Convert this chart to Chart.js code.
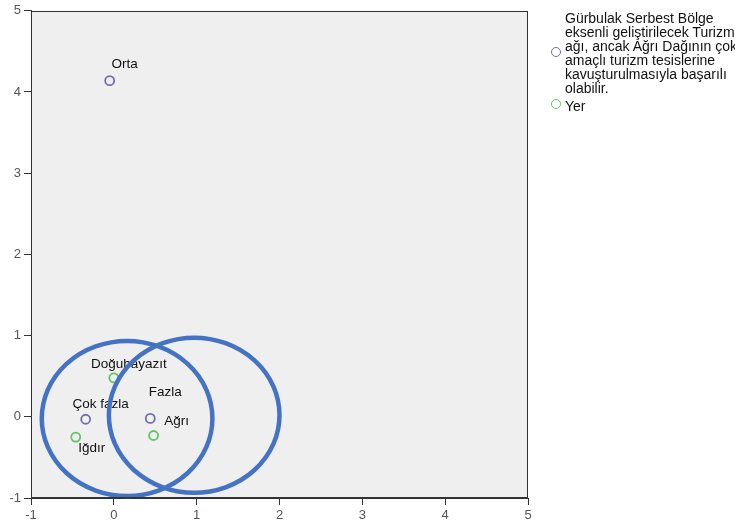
<!DOCTYPE html>
<html>
<head>
<meta charset="utf-8">
<script src="https://cdn.jsdelivr.net/npm/chart.js@4"></script>
<style>
  html, body { margin:0; padding:0; background:#fff; width:735px; height:526px; overflow:hidden; }
  #wrap { position:relative; width:735px; height:526px; overflow:hidden; }
  canvas { position:absolute; left:0; top:0; }
  .lg-text { position:absolute; font-family: Arial, 'Liberation Sans', sans-serif; font-size:14px; line-height:14px; color:#111; white-space:nowrap; }
  .lg-mark { position:absolute; width:8px; height:8px; border-radius:50%; border:1.6px solid; box-sizing:content-box; }
</style>
</head>
<body>
<div id="wrap">
  <canvas id="c" width="735" height="526"></canvas>
  <div id="legend"></div>
</div>
<script>
// ---- data ----
const seriesNames = [
  'Gürbulak Serbest Bölge\neksenli geliştirilecek Turizm\nağı, ancak Ağrı Dağının çok\namaçlı turizm tesislerine\nkavuşturulmasıyla başarılı\nolabilir.',
  'Yer'
];
const opinionLabels = ['Orta', 'Çok fazla', 'Fazla'];
const opinionX = [-0.05, -0.34, 0.44];
const opinionY = [4.14, -0.03, -0.02];
const placeLabels = ['Doğubayazıt', 'Iğdır', 'Ağrı'];
const placeX = [0.00, -0.46, 0.48];
const placeY = [0.48, -0.25, -0.23];
const xTickRange = [-1, 5];
const yTickRange = [-1, 5];
// highlight ellipses (data units): centre x, centre y, radius x, radius y
const ellipseCX = [0.16, 0.97];
const ellipseCY = [-0.02, 0.02];
const ellipseRX = [1.03, 1.03];
const ellipseRY = [0.955, 0.955];

// ---- styling ----
const FONT = "Arial, 'Liberation Sans', sans-serif";
const colors = ['#6f6fae', '#62c462'];
// label offsets in pixels (layout only)
const labelOffsets = [
  [[15, -16], [15, -15], [15, -26]],
  [[15, -14], [16, 11], [23, -14]]
];

function pts(xs, ys, labels) {
  return xs.map((x, i) => ({ x: x, y: ys[i], label: labels[i] }));
}

const bgPlugin = {
  id: 'bg',
  beforeDraw(chart) {
    const { ctx, chartArea: a } = chart;
    ctx.save();
    ctx.fillStyle = '#efefef';
    ctx.fillRect(a.left, a.top, a.right - a.left, a.bottom - a.top);
    ctx.restore();
  },
  afterDraw(chart) {
    const { ctx, chartArea: a } = chart;
    ctx.save();
    ctx.strokeStyle = '#333';
    ctx.lineWidth = 1;
    ctx.strokeRect(Math.round(a.left) + 0.5, Math.round(a.top) + 0.5,
      Math.round(a.right - a.left) - 1, Math.round(a.bottom - a.top) - 1);
    ctx.restore();
  }
};

const labelPlugin = {
  id: 'pointLabels',
  afterDatasetsDraw(chart) {
    const ctx = chart.ctx;
    ctx.save();
    ctx.font = '13.5px ' + FONT;
    ctx.fillStyle = '#111';
    ctx.textAlign = 'center';
    ctx.textBaseline = 'middle';
    chart.data.datasets.forEach((ds, di) => {
      const meta = chart.getDatasetMeta(di);
      meta.data.forEach((el, i) => {
        const off = labelOffsets[di][i];
        ctx.fillText(ds.data[i].label, el.x + off[0], el.y + off[1]);
      });
    });
    // ellipses on top
    const xs = chart.scales.x, ys = chart.scales.y;
    ctx.strokeStyle = '#4472c4';
    ctx.lineWidth = 4.5;
    ellipseCX.forEach((cx, i) => {
      const px = xs.getPixelForValue(cx);
      const py = ys.getPixelForValue(ellipseCY[i]);
      const rx = Math.abs(xs.getPixelForValue(cx + ellipseRX[i]) - px);
      const ry = Math.abs(ys.getPixelForValue(ellipseCY[i] + ellipseRY[i]) - py);
      ctx.beginPath();
      ctx.ellipse(px, py, rx, ry, 0, 0, Math.PI * 2);
      ctx.stroke();
    });
    ctx.restore();
  }
};

const tickFont = { family: FONT, size: 13 };

new Chart(document.getElementById('c'), {
  type: 'scatter',
  data: {
    datasets: [
      {
        label: seriesNames[0],
        data: pts(opinionX, opinionY, opinionLabels),
        pointStyle: 'circle', pointRadius: 4.5, pointBorderWidth: 1.8,
        borderColor: colors[0], backgroundColor: 'rgba(0,0,0,0)'
      },
      {
        label: seriesNames[1],
        data: pts(placeX, placeY, placeLabels),
        pointStyle: 'circle', pointRadius: 4.5, pointBorderWidth: 1.8,
        borderColor: colors[1], backgroundColor: 'rgba(0,0,0,0)'
      }
    ]
  },
  options: {
    responsive: false,
    animation: false,
    devicePixelRatio: 1,
    layout: { padding: { top: 8, right: 207, left: 0, bottom: 0 } },
    plugins: { legend: { display: false }, tooltip: { enabled: false } },
    scales: {
      x: {
        type: 'linear', min: xTickRange[0], max: xTickRange[1],
        ticks: { stepSize: 1, color: '#555', font: tickFont, padding: 3, maxRotation: 0 },
        grid: { drawOnChartArea: false, drawTicks: true, tickLength: 7, color: '#333' },
        border: { color: '#333' },
        afterFit(s) { s.height = 28; }
      },
      y: {
        type: 'linear', min: yTickRange[0], max: yTickRange[1],
        ticks: { stepSize: 1, color: '#555', font: tickFont, padding: 3 },
        grid: { drawOnChartArea: false, drawTicks: true, tickLength: 7, color: '#333' },
        border: { color: '#333' },
        afterFit(s) { s.width = 31; }
      }
    }
  },
  plugins: [bgPlugin, labelPlugin]
});

// ---- legend (HTML text) ----
const legend = document.getElementById('legend');
const legendLayout = [
  { markTop: 47, textTop: 11 },
  { markTop: 99, textTop: 99 }
];
seriesNames.forEach((name, i) => {
  const m = document.createElement('div');
  m.className = 'lg-mark';
  m.style.left = '551px';
  m.style.top = legendLayout[i].markTop + 'px';
  m.style.borderColor = colors[i];
  legend.appendChild(m);
  const t = document.createElement('div');
  t.className = 'lg-text';
  t.style.left = '565px';
  t.style.top = legendLayout[i].textTop + 'px';
  t.innerHTML = name.split('\n').map(s => s.replace(/&/g, '&amp;')).join('<br>');
  legend.appendChild(t);
});
</script>
</body>
</html>
